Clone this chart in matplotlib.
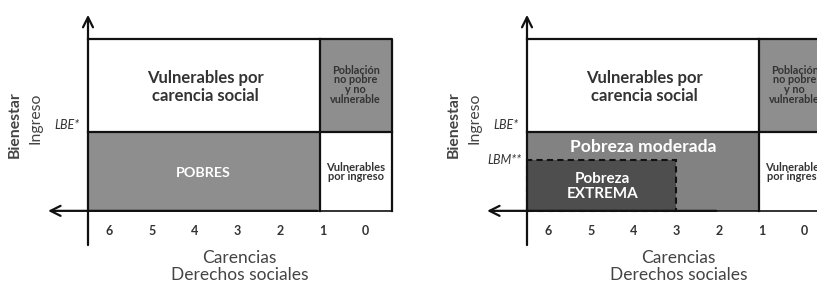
import matplotlib.pyplot as plt
from matplotlib.patches import Rectangle

# categories / labels
carencias = [6, 5, 4, 3, 2, 1, 0]
lbe = 1.84        # linea de bienestar (ingreso)
lbm = 1.19        # linea de bienestar minimo
corte = 5.43      # umbral de carencias (entre 1 y 0)
tope = 4.0
borde = 7.12
corte_ext = 3.5   # pobreza extrema hasta 3 carencias

W, H = 8.17, 2.84
fig = plt.figure(figsize=(W, H), dpi=100)
sx, sy = 42.7, 43.0   # px per unit
txt = '#333333'


def panel(x0px):
    left = (x0px - 2.0 * sx) / (W * 100)
    ax = fig.add_axes([left, 0, 9.5 * sx / (W * 100), 1])
    ax.set_xlim(-2.0, 7.5)
    ax.set_ylim(-1.7, 4.9)
    ax.axis('off')
    return ax


def base(ax, gris_sup='#8e8e8e'):
    # upper right cell
    ax.add_patch(Rectangle((corte, lbe), borde - corte, tope - lbe, fc=gris_sup, ec='none'))
    # frame
    ax.plot([0, borde, borde], [tope, tope, 0], color='#111111', lw=1.6)
    ax.plot([corte, corte], [0, tope], color='#111111', lw=1.6)
    ax.plot([0, borde], [lbe, lbe], color='#111111', lw=1.6)
    ax.plot([0, borde], [0, 0], color='#111111', lw=1.2)
    # axes arrows
    ax.annotate('', xy=(0, 4.62), xytext=(0, -0.86),
                arrowprops=dict(arrowstyle='->', lw=1.6, color='#111111', mutation_scale=18))
    ax.text(2.74, 2.88, 'Vulnerables por\ncarencia social', ha='center', va='center', color=txt,
            fontsize=12, family='Lato', fontweight='bold', linespacing=1.1)
    ax.text(6.27, 2.93, 'Población\nno pobre\ny no\nvulnerable', ha='center', va='center',
            color=txt, fontsize=7.8, family='Lato', fontweight='bold', linespacing=0.85)
    ax.text(6.27, 0.9, 'Vulnerables\npor ingreso', ha='center', va='center', color=txt,
            fontsize=8, family='Lato', fontweight='bold', linespacing=0.85)
    for i, c in enumerate(carencias):
        ax.text(0.5 + i, -0.47, str(c), ha='center', va='center', fontsize=9, color=txt,
                family='Lato', fontweight='bold')
    ax.text(3.55, -1.1, 'Carencias', ha='center', va='center', fontsize=12.5,
            family='Lato', color='#444444')
    ax.text(3.55, -1.49, 'Derechos sociales', ha='center', va='center', fontsize=12.5,
            family='Lato', color='#444444')
    ax.text(-1.71, 2.0, 'Bienestar', ha='center', va='center', rotation=90, color='#444444',
            fontsize=11.3, family='Lato', fontweight='bold')
    ax.text(-1.24, 2.16, 'Ingreso', ha='center', va='center', rotation=90, color='#444444',
            fontsize=11.3, family='Lato')
    ax.text(-0.19, 2.0, 'LBE*', ha='right', va='center', fontsize=9, color=txt,
            family='Lato', style='italic')


# left panel
ax1 = panel(88)
ax1.add_patch(Rectangle((0, 0), corte, lbe, fc='#8e8e8e', ec='none'))
base(ax1)
ax1.annotate('', xy=(-1.0, 0), xytext=(corte, 0),
             arrowprops=dict(arrowstyle='->', lw=1.6, color='#111111', mutation_scale=18))
ax1.text(2.7, 0.88, 'POBRES', ha='center', va='center', color='white',
         fontsize=10.3, family='Lato', fontweight='bold')

# right panel
ax2 = panel(527)
ax2.add_patch(Rectangle((0, 0), corte, lbe, fc='#828282', ec='none'))
ax2.add_patch(Rectangle((0, 0), corte_ext, lbm, fc='#4e4e4e', ec='#111111', lw=1.5,
                        ls=(0, (3, 2))))
base(ax2)
ax2.annotate('', xy=(-1.0, 0), xytext=(4.5, 0),
             arrowprops=dict(arrowstyle='->', lw=1.6, color='#111111', mutation_scale=18))
ax2.text(2.72, 1.49, 'Pobreza moderada', ha='center', va='center', color='white',
         fontsize=12.6, family='Lato', fontweight='bold')
ax2.text(1.76, 0.56, 'Pobreza\nEXTREMA', ha='center', va='center', color='white',
         fontsize=11, family='Lato', fontweight='bold', linespacing=1.05)
ax2.text(-0.12, lbm, 'LBM**', ha='right', va='center', fontsize=9, color=txt,
         family='Lato', style='italic')

fig.savefig('out.png', dpi=100, facecolor='white')
